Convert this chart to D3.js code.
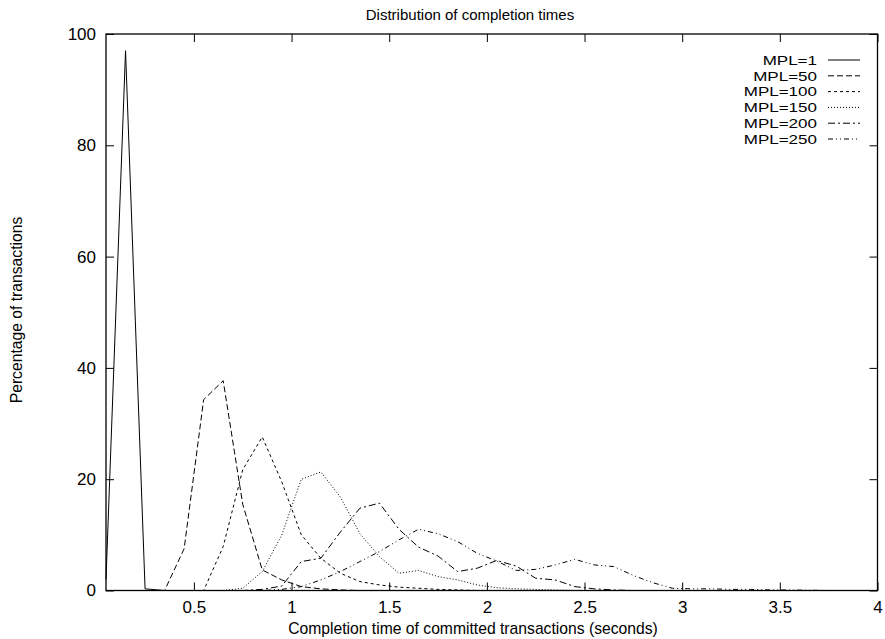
<!DOCTYPE html>
<html>
<head>
<meta charset="utf-8">
<script src="https://cdn.jsdelivr.net/npm/d3@7.9.0/dist/d3.min.js"></script>
<style>
  body { margin: 0; background: #fff; }
  svg text { font-family: "Liberation Sans", Arial, sans-serif; fill: #000; }
</style>
</head>
<body>
<svg id="chart" width="885" height="639"></svg>
<script>
// bin centres (seconds)
const binCentres = d3.range(40).map((i) => +(0.05 + i * 0.1).toFixed(2));

const seriesNames = ['MPL=1', 'MPL=50', 'MPL=100', 'MPL=150', 'MPL=200', 'MPL=250'];

// percentage of transactions per bin, one array per MPL
const mpl1 = [2, 97, 0.3, 0, 0, 0, 0, 0, 0, 0, 0, 0, 0, 0, 0, 0, 0, 0, 0, 0,
  0, 0, 0, 0, 0, 0, 0, 0, 0, 0, 0, 0, 0, 0, 0, 0, 0, 0, 0, 0];
const mpl50 = [0, 0, 0, 0, 7.5, 34.3, 37.7, 15.5, 3.7, 1.9, 0.7, 0.3, 0.1, 0, 0, 0, 0, 0, 0, 0,
  0, 0, 0, 0, 0, 0, 0, 0, 0, 0, 0, 0, 0, 0, 0, 0, 0, 0, 0, 0];
const mpl100 = [0, 0, 0, 0, 0, 0, 7.9, 21.7, 27.6, 19.5, 10.0, 5.8, 3.1, 1.6, 1.0, 0.6, 0.4, 0.2, 0.1, 0,
  0, 0, 0, 0, 0, 0, 0, 0, 0, 0, 0, 0, 0, 0, 0, 0, 0, 0, 0, 0];
const mpl150 = [0, 0, 0, 0, 0, 0, 0, 0.4, 3.4, 10.0, 20.0, 21.3, 16.8, 10.2, 6.1, 3.1, 3.6, 2.5, 1.9, 1.0,
  0.5, 0.3, 0.2, 0.1, 0, 0, 0, 0, 0, 0, 0, 0, 0, 0, 0, 0, 0, 0, 0, 0];
const mpl200 = [0, 0, 0, 0, 0, 0, 0, 0, 0.2, 0.8, 5.2, 5.8, 10.5, 14.8, 15.7, 11.0, 7.8, 6.2, 3.4, 4.0,
  5.4, 4.4, 2.2, 1.9, 0.7, 0.3, 0.1, 0, 0, 0, 0, 0, 0, 0, 0, 0, 0, 0, 0, 0];
const mpl250 = [0, 0, 0, 0, 0, 0, 0, 0, 0, 0.2, 0.7, 1.9, 3.4, 5.2, 7.0, 9.1, 11.0, 10.2, 8.8, 6.7,
  5.3, 3.6, 3.8, 4.6, 5.6, 4.6, 4.3, 2.7, 1.4, 0.4, 0.3, 0.3, 0.2, 0.2, 0.1, 0.1, 0.05, 0, 0, 0];

const xTicks = [0.5, 1, 1.5, 2, 2.5, 3, 3.5, 4];
const yTicks = [0, 20, 40, 60, 80, 100];

const allSeries = [mpl1, mpl50, mpl100, mpl150, mpl200, mpl250];
const dashes = ['none', '6,3', '3,3', '1,2', '7,3,2,3', '5,3,1,3,1,3'];

const svg = d3.select('#chart');
const margin = { top: 34, right: 7.5, bottom: 48.5, left: 106 };
const width = 885 - margin.left - margin.right;
const height = 639 - margin.top - margin.bottom;

const x = d3.scaleLinear().domain([0.05, 4]).range([0, width]);
const y = d3.scaleLinear().domain([0, 100]).range([height, 0]);

const g = svg.append('g').attr('transform', `translate(${margin.left},${margin.top})`);

// axes with inward ticks
g.append('g')
  .attr('transform', `translate(0,${height})`)
  .call(d3.axisBottom(x).tickValues(xTicks).tickFormat(d3.format('')).tickSizeInner(-8).tickSizeOuter(0).tickPadding(10.5));
g.append('g')
  .call(d3.axisLeft(y).tickValues(yTicks).tickSizeInner(-8).tickSizeOuter(0).tickPadding(10));
g.append('g')
  .call(d3.axisTop(x).tickValues(xTicks).tickFormat('').tickSizeInner(-8).tickSizeOuter(0));
g.append('g')
  .attr('transform', `translate(${width},0)`)
  .call(d3.axisRight(y).tickValues(yTicks).tickFormat('').tickSizeInner(-8).tickSizeOuter(0));

g.selectAll('.domain').remove();
g.selectAll('.tick line').attr('stroke', '#000');
g.selectAll('.tick text').style('font-size', '17px');

g.append('rect')
  .attr('width', width)
  .attr('height', height)
  .attr('fill', 'none')
  .attr('stroke', '#000')
  .attr('stroke-width', 1.3);

// series lines
const line = d3.line()
  .x((d, i) => x(binCentres[i]))
  .y((d) => y(d));

allSeries.forEach((values, i) => {
  g.append('path')
    .datum(values)
    .attr('d', line)
    .attr('fill', 'none')
    .attr('stroke', '#000')
    .attr('stroke-width', 1)
    .attr('stroke-dasharray', dashes[i]);
});

// legend (smaller font, stretched to the reference width so rows don't collide)
const legend = svg.append('g');
seriesNames.forEach((name, i) => {
  const yy = 60 + i * 15.8;
  const t = legend.append('text')
    .attr('x', 817)
    .attr('y', yy)
    .attr('dy', '0.35em')
    .attr('text-anchor', 'end')
    .style('font-size', '13.5px')
    .text(name);
  const w = t.node().getComputedTextLength();
  t.attr('textLength', w * 17 / 13.5).attr('lengthAdjust', 'spacingAndGlyphs');
  legend.append('line')
    .attr('x1', 828).attr('x2', 860)
    .attr('y1', yy).attr('y2', yy)
    .attr('stroke', '#000')
    .attr('stroke-width', 1)
    .attr('stroke-dasharray', dashes[i]);
});

// titles
svg.append('text')
  .attr('x', 470).attr('y', 20)
  .attr('text-anchor', 'middle')
  .style('font-size', '15px')
  .text('Distribution of completion times');

svg.append('text')
  .attr('x', 473).attr('y', 634)
  .attr('text-anchor', 'middle')
  .style('font-size', '15.7px')
  .text('Completion time of committed transactions (seconds)');

svg.append('text')
  .attr('transform', 'translate(22,310) rotate(-90)')
  .attr('text-anchor', 'middle')
  .style('font-size', '15.7px')
  .text('Percentage of transactions');
</script>
</body>
</html>
